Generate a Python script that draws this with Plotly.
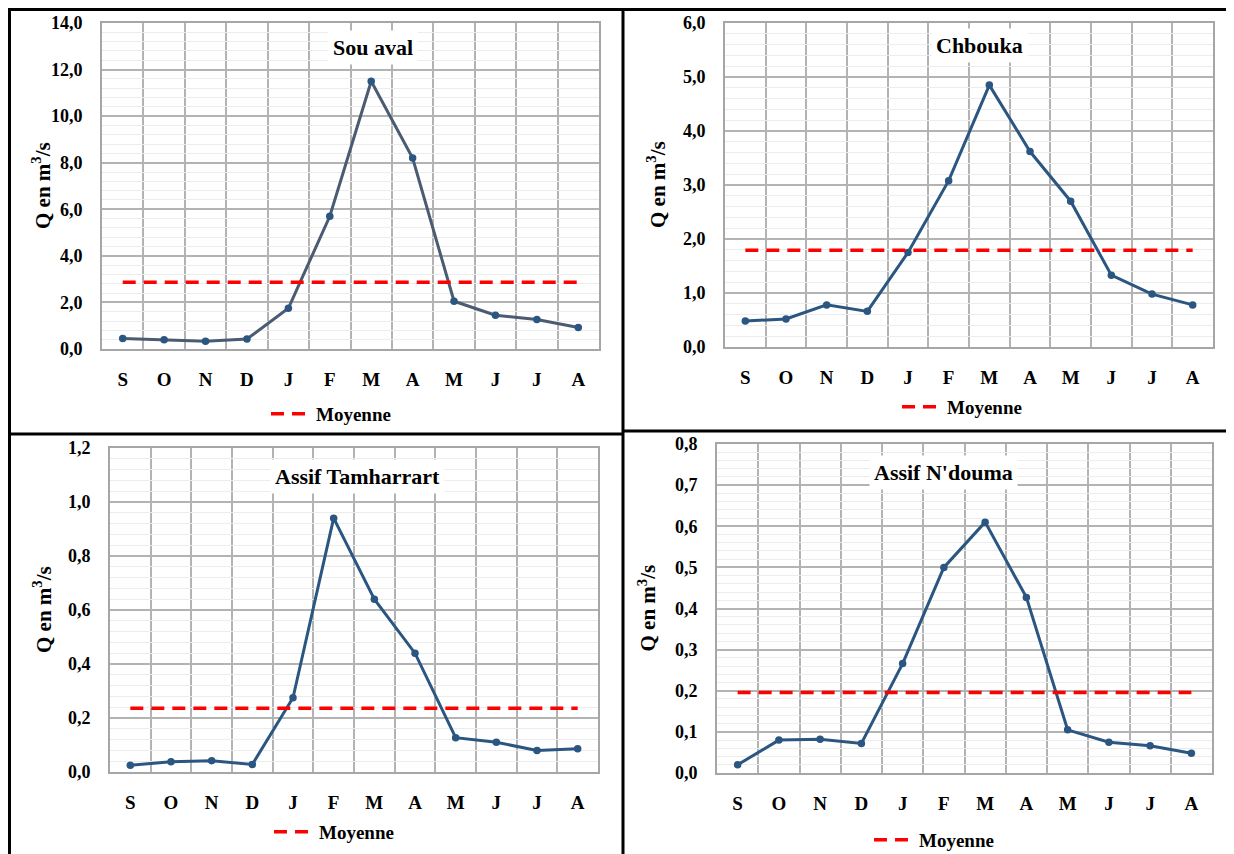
import plotly.graph_objects as go

months = ["S", "O", "N", "D", "J", "F", "M", "A", "M", "J", "J", "A"]
month_idx = list(range(12))

stations = ["Sou aval", "Chbouka", "Assif Tamharrart", "Assif N'douma"]
sou_aval = [0.45, 0.40, 0.33, 0.43, 1.75, 5.70, 11.50, 8.20, 2.05, 1.45, 1.27, 0.92]
chbouka = [0.48, 0.52, 0.78, 0.66, 1.75, 3.08, 4.85, 3.62, 2.70, 1.33, 0.98, 0.78]
tamharrart = [0.025, 0.038, 0.042, 0.028, 0.275, 0.94, 0.64, 0.44, 0.127, 0.110, 0.080, 0.086]
ndouma = [0.020, 0.080, 0.082, 0.072, 0.266, 0.500, 0.610, 0.427, 0.105, 0.075, 0.066, 0.048]
moyennes = [2.87, 1.79, 0.236, 0.196]
y_max = [14.0, 6.0, 1.2, 0.8]
y_step = [2.0, 1.0, 0.2, 0.1]

series = [sou_aval, chbouka, tamharrart, ndouma]

# page has an 8px body margin: the figure is placed at (8, 8) in the window
OFF = 8
W, H = 1234 - OFF, 854 - OFF
FONT = "Liberation Serif, Times New Roman, Times, serif"


def px(x):
    return (x - OFF) / W


def py(y):
    return 1 - (y - OFF) / H


# plot area boxes in window pixels: left, right, top, bottom
boxes = [
    (102, 599, 23, 349),
    (725, 1213, 23, 347),
    (110, 598, 448, 772),
    (717, 1212, 444, 773),
]
title_pos = [(373, 48), (979, 46), (357, 476), (943, 472)]
ylab_x = [42, 656, 42, 647]
legend_pos = [(266, 414), (897, 407), (269, 832), (869, 840)]
line_colors = ["#4a5b72", "#2a5681", "#2a5681", "#2a5681"]
marker_color = "#2a5681"

fig = go.Figure()
layout = dict(
    width=W, height=H,
    margin=dict(l=0, r=0, t=0, b=0, autoexpand=False),
    paper_bgcolor="white", plot_bgcolor="white",
    separators=", ",
    font=dict(family=FONT, size=18, color="black"),
    showlegend=True,
)
annotations = []
shapes = []

for i in range(4):
    xs = "" if i == 0 else str(i + 1)
    L, R, T, B = boxes[i]
    leg = "legend" if i == 0 else f"legend{i + 1}"
    fig.add_trace(go.Scatter(
        x=month_idx, y=series[i], mode="lines+markers",
        line=dict(color=line_colors[i], width=3),
        marker=dict(color=marker_color, size=7.5),
        xaxis="x" + xs, yaxis="y" + xs, showlegend=False, name=stations[i],
    ))
    fig.add_trace(go.Scatter(
        x=[month_idx[0], month_idx[-1]], y=[moyennes[i], moyennes[i]], mode="lines",
        line=dict(color="#ff0000", width=3.5, dash="13px,8px"),
        xaxis="x" + xs, yaxis="y" + xs, name="Moyenne", legend=leg, showlegend=True,
    ))
    layout["xaxis" + xs] = dict(
        domain=[px(L), px(R)], anchor="y" + xs, range=[-0.5, 11.5],
        tickmode="array", tickvals=month_idx, ticktext=months, showgrid=False,
        tickfont=dict(family=FONT, size=19, color="black", weight="bold"),
        ticks="", ticklabelstandoff=12, automargin=False,
        showline=True, mirror=True, linecolor="#a6a6a6", linewidth=2,
        minor=dict(tick0=-0.5, dtick=1, showgrid=True, gridcolor="#b3b3b3", gridwidth=1.5, ticks=""),
        zeroline=False, fixedrange=True,
    )
    layout["yaxis" + xs] = dict(
        domain=[py(B), py(T)], anchor="x" + xs, range=[0, y_max[i]],
        tick0=0, dtick=y_step[i], tickformat=".1f",
        tickfont=dict(family=FONT, size=18, color="black", weight="bold"),
        showgrid=True, gridcolor="#b3b3b3", gridwidth=1.5,
        ticks="", ticklabelstandoff=14, automargin=False,
        showline=True, mirror=True, linecolor="#a6a6a6", linewidth=2,
        minor=dict(dtick=y_step[i] / 5, showgrid=True, gridcolor="#ececec", gridwidth=1),
        zeroline=False, fixedrange=True,
    )
    tx, ty = title_pos[i]
    annotations.append(dict(
        text="<b>" + stations[i] + "</b>", x=px(tx), y=py(ty), xref="paper", yref="paper",
        showarrow=False, bgcolor="white", borderpad=4,
        font=dict(family=FONT, size=22, color="black"),
        xanchor="center", yanchor="middle",
    ))
    annotations.append(dict(
        text="<b>Q en m<sup>3</sup>/s</b>", x=px(ylab_x[i]), y=py((T + B) / 2),
        xref="paper", yref="paper", showarrow=False, textangle=-90,
        font=dict(family=FONT, size=21, color="black"),
        xanchor="center", yanchor="middle",
    ))
    lx, ly = legend_pos[i]
    layout[leg] = dict(
        x=px(lx), y=py(ly), xanchor="left", yanchor="middle",
        orientation="h", bgcolor="rgba(0,0,0,0)",
        font=dict(family=FONT, size=19, color="black", weight="bold"),
        itemwidth=40,
    )

# panel borders (window pixel coordinates)
border = dict(type="line", xref="paper", yref="paper", line=dict(color="black", width=3))
for (x0, y0, x1, y1) in [
    (8, 9.5, 623, 9.5), (623, 9.5, 1234, 9.5),
    (9.5, 8, 9.5, 854), (623, 8, 623, 854),
    (8, 434, 623, 434), (623, 431, 1234, 431),
]:
    shapes.append(dict(border, x0=px(x0), x1=px(x1), y0=py(y0), y1=py(y1)))

layout["annotations"] = annotations
layout["shapes"] = shapes
fig.update_layout(**layout)
fig.write_html("out.html")
